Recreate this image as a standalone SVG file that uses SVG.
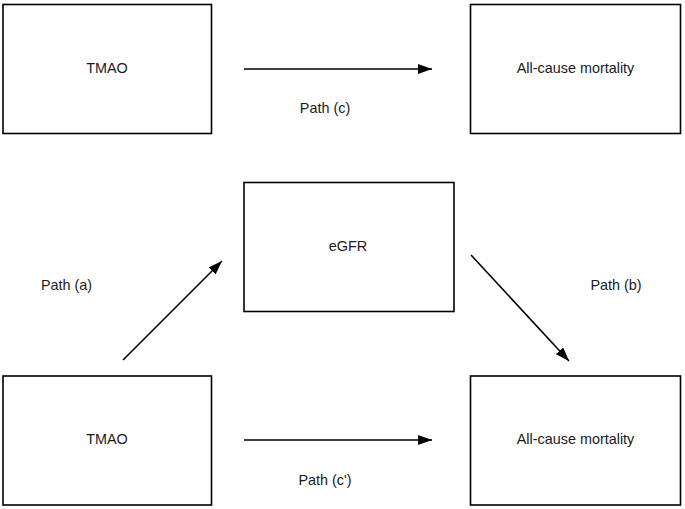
<svg xmlns="http://www.w3.org/2000/svg" width="685" height="509" viewBox="0 0 685 509">
<style>
.box{fill:#fff;stroke:#000;stroke-width:1.6}
.lbl{font-family:"Liberation Sans",Arial,sans-serif;font-size:14.4px;fill:#1a1a1a;text-anchor:middle}
.edge{stroke:#000;stroke-width:1.6;fill:none;marker-end:url(#ah)}
</style>
<defs>
<marker id="ah" viewBox="0 0 14 10" refX="14" refY="5" markerWidth="14" markerHeight="10" markerUnits="userSpaceOnUse" orient="auto">
<path d="M0,0 L14,5 L0,10 Z" fill="#000"/>
</marker>
</defs>
<rect width="685" height="509" fill="#fff"/>
<g id="tmao-top"><rect class="box" x="3" y="4.5" width="208.5" height="129"/><text class="lbl" x="107" y="72.5">TMAO</text></g>
<g id="mort-top"><rect class="box" x="470.5" y="4.5" width="210" height="129"/><text class="lbl" x="575.5" y="72.5">All-cause mortality</text></g>
<g id="egfr"><rect class="box" x="244" y="182.5" width="210" height="129"/><text class="lbl" x="348" y="250.5">eGFR</text></g>
<g id="tmao-bottom"><rect class="box" x="3" y="376" width="208.5" height="129"/><text class="lbl" x="107" y="443.5">TMAO</text></g>
<g id="mort-bottom"><rect class="box" x="470.5" y="376" width="210" height="129"/><text class="lbl" x="575.5" y="443.5">All-cause mortality</text></g>
<g id="connectors">
<line class="edge" x1="244" y1="69" x2="432" y2="69"/>
<line class="edge" x1="244" y1="440" x2="432" y2="440"/>
<line class="edge" x1="123" y1="360" x2="222" y2="261"/>
<line class="edge" x1="471" y1="255" x2="569" y2="361"/>
<text class="lbl" x="325" y="113">Path (c)</text>
<text class="lbl" x="325" y="485">Path (c')</text>
<text class="lbl" x="66.5" y="290">Path (a)</text>
<text class="lbl" x="616" y="290">Path (b)</text>
</g>
</svg>
